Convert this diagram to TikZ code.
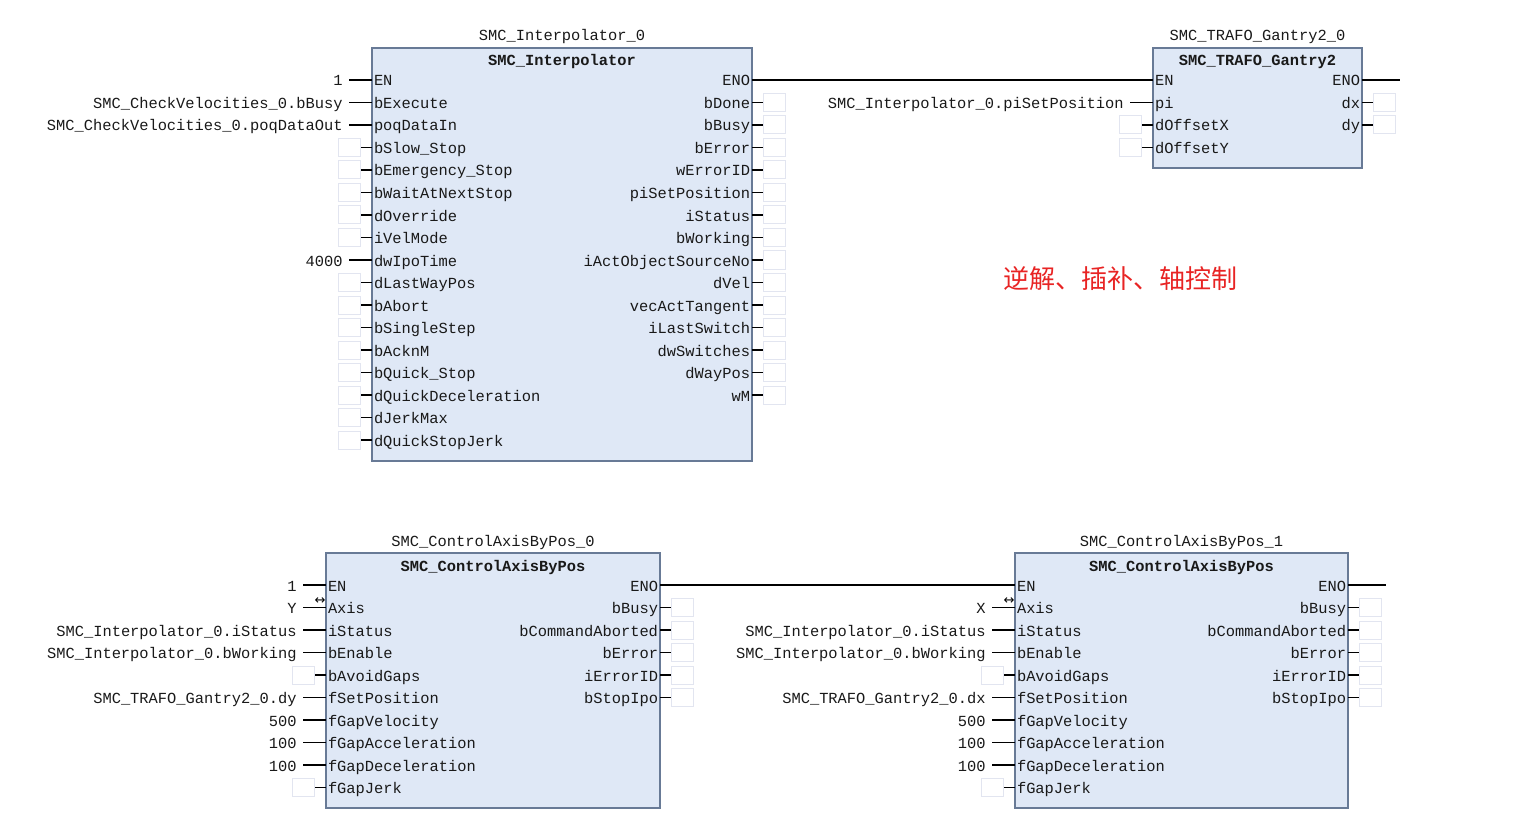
\documentclass[tikz,border=0pt]{standalone}
\usepackage{fontspec}
\setmainfont{Liberation Mono}
\newfontfamily\cjk{Noto Sans CJK SC}
\newfontfamily\symfont{DejaVu Sans}
\usetikzlibrary{calc}
\definecolor{fbfill}{RGB}{223,232,246}
\definecolor{fbline}{RGB}{104,122,150}
\definecolor{fbopen}{RGB}{226,229,240}
\definecolor{fbtext}{RGB}{25,25,25}
\definecolor{cnred}{RGB}{232,36,36}
\begin{document}
\begin{tikzpicture}[x=0.5pt, y=-0.5pt,
  font=\fontsize{7.7}{9}\selectfont,
  fbbox/.style={draw=fbline, fill=fbfill, line width=0.7pt},
  pinl/.style={inner xsep=0.8pt, inner ysep=0pt, text height=7pt, text depth=1pt, text=fbtext},
  pinv/.style={inner xsep=3pt, inner ysep=0pt, text height=7pt, text depth=1pt, text=fbtext},
  openbox/.style={draw=fbopen, fill=white, line width=0.5pt, minimum width=11pt, minimum height=9pt, inner sep=0pt},
  wire/.style={draw=black, line width=0.6pt}]
% FBD network exported from the CODESYS editor
\def\fbdBlock#1#2#3#4#5#6#7{%
  \draw[fbbox] (#2,#3) rectangle (#4,#5);
  \node[pinv] (#1-inst) at ($(#2,#3)!0.5!(#4,#3)+(0,-13)$) {#6};
  \node[pinv, font=\fontsize{7.7}{9}\selectfont\bfseries] (#1-type) at ($(#2,#3)!0.5!(#4,#3)+(0,12)$) {#7};}
% input pin fed by a value
\def\fbdIn#1#2#3#4#5{%
  \node[pinl, anchor=west] (#1) at (#2,#3) {#4};
  \node[pinv, anchor=east] (#1-v) at ([xshift=-11.5pt]#2,#3) {#5};
  \draw[wire] (#1-v.east) -- (#1.west);}
% input pin left open
\def\fbdOpen#1#2#3#4{%
  \node[pinl, anchor=west] (#1) at (#2,#3) {#4};
  \node[openbox, anchor=east] (#1-b) at ([xshift=-5.5pt]#2,#3) {};
  \draw[wire] (#1-b.east) -- (#1.west);}
% output pin left open
\def\fbdOut#1#2#3#4{%
  \node[pinl, anchor=east] (#1) at (#2,#3) {#4};
  \node[openbox, anchor=west] (#1-b) at ([xshift=5.5pt]#2,#3) {};
  \draw[wire] (#1.east) -- (#1-b.west);}

% Blocks
\fbdBlock{ip}{372}{48}{752}{461}{SMC\_Interpolator\_0}{SMC\_Interpolator}
\fbdBlock{tr}{1153}{48}{1362}{168}{SMC\_TRAFO\_Gantry2\_0}{SMC\_TRAFO\_Gantry2}
\fbdBlock{ca}{326}{553}{660}{808}{SMC\_ControlAxisByPos\_0}{SMC\_ControlAxisByPos}
\fbdBlock{cb}{1015}{553}{1348}{808}{SMC\_ControlAxisByPos\_1}{SMC\_ControlAxisByPos}

% SMC_Interpolator_0 inputs
\fbdIn{ip-EN}{372}{80}{EN}{1}
\fbdIn{ip-bExecute}{372}{102.5}{bExecute}{SMC\_CheckVelocities\_0.bBusy}
\fbdIn{ip-poqDataIn}{372}{125}{poqDataIn}{SMC\_CheckVelocities\_0.poqDataOut}
\fbdOpen{ip-bSlowStop}{372}{147.5}{bSlow\_Stop}
\fbdOpen{ip-bEmergencyStop}{372}{170}{bEmergency\_Stop}
\fbdOpen{ip-bWaitAtNextStop}{372}{192.5}{bWaitAtNextStop}
\fbdOpen{ip-dOverride}{372}{215}{dOverride}
\fbdOpen{ip-iVelMode}{372}{237.5}{iVelMode}
\fbdIn{ip-dwIpoTime}{372}{260}{dwIpoTime}{4000}
\fbdOpen{ip-dLastWayPos}{372}{282.5}{dLastWayPos}
\fbdOpen{ip-bAbort}{372}{305}{bAbort}
\fbdOpen{ip-bSingleStep}{372}{327.5}{bSingleStep}
\fbdOpen{ip-bAcknM}{372}{350}{bAcknM}
\fbdOpen{ip-bQuickStop}{372}{372.5}{bQuick\_Stop}
\fbdOpen{ip-dQuickDeceleration}{372}{395}{dQuickDeceleration}
\fbdOpen{ip-dJerkMax}{372}{417.5}{dJerkMax}
\fbdOpen{ip-dQuickStopJerk}{372}{440}{dQuickStopJerk}
% SMC_Interpolator_0 outputs
\node[pinl, anchor=east] (ip-ENO) at (752,80) {ENO};
\fbdOut{ip-bDone}{752}{102.5}{bDone}
\fbdOut{ip-bBusy}{752}{125}{bBusy}
\fbdOut{ip-bError}{752}{147.5}{bError}
\fbdOut{ip-wErrorID}{752}{170}{wErrorID}
\fbdOut{ip-piSetPosition}{752}{192.5}{piSetPosition}
\fbdOut{ip-iStatus}{752}{215}{iStatus}
\fbdOut{ip-bWorking}{752}{237.5}{bWorking}
\fbdOut{ip-iActObjectSourceNo}{752}{260}{iActObjectSourceNo}
\fbdOut{ip-dVel}{752}{282.5}{dVel}
\fbdOut{ip-vecActTangent}{752}{305}{vecActTangent}
\fbdOut{ip-iLastSwitch}{752}{327.5}{iLastSwitch}
\fbdOut{ip-dwSwitches}{752}{350}{dwSwitches}
\fbdOut{ip-dWayPos}{752}{372.5}{dWayPos}
\fbdOut{ip-wM}{752}{395}{wM}

% SMC_TRAFO_Gantry2_0
\node[pinl, anchor=west] (tr-EN) at (1153,80) {EN};
\fbdIn{tr-pi}{1153}{102.5}{pi}{SMC\_Interpolator\_0.piSetPosition}
\fbdOpen{tr-dOffsetX}{1153}{125}{dOffsetX}
\fbdOpen{tr-dOffsetY}{1153}{147.5}{dOffsetY}
\node[pinl, anchor=east] (tr-ENO) at (1362,80) {ENO};
\fbdOut{tr-dx}{1362}{102.5}{dx}
\fbdOut{tr-dy}{1362}{125}{dy}
\coordinate (tr-ENO-end) at (1400,80);

% SMC_ControlAxisByPos_0
\fbdIn{ca-EN}{326}{585}{EN}{1}
\fbdIn{ca-Axis}{326}{607.5}{Axis}{Y}
\node[font=\symfont\fontsize{6.5}{6.5}\selectfont, inner sep=0pt] (ca-Axis-io) at (320,601) {↔};
\fbdIn{ca-iStatus}{326}{630}{iStatus}{SMC\_Interpolator\_0.iStatus}
\fbdIn{ca-bEnable}{326}{652.5}{bEnable}{SMC\_Interpolator\_0.bWorking}
\fbdOpen{ca-bAvoidGaps}{326}{675}{bAvoidGaps}
\fbdIn{ca-fSetPosition}{326}{697.5}{fSetPosition}{SMC\_TRAFO\_Gantry2\_0.dy}
\fbdIn{ca-fGapVelocity}{326}{720}{fGapVelocity}{500}
\fbdIn{ca-fGapAcceleration}{326}{742.5}{fGapAcceleration}{100}
\fbdIn{ca-fGapDeceleration}{326}{765}{fGapDeceleration}{100}
\fbdOpen{ca-fGapJerk}{326}{787.5}{fGapJerk}
\node[pinl, anchor=east] (ca-ENO) at (660,585) {ENO};
\fbdOut{ca-bBusy}{660}{607.5}{bBusy}
\fbdOut{ca-bCommandAborted}{660}{630}{bCommandAborted}
\fbdOut{ca-bError}{660}{652.5}{bError}
\fbdOut{ca-iErrorID}{660}{675}{iErrorID}
\fbdOut{ca-bStopIpo}{660}{697.5}{bStopIpo}

% SMC_ControlAxisByPos_1
\node[pinl, anchor=west] (cb-EN) at (1015,585) {EN};
\fbdIn{cb-Axis}{1015}{607.5}{Axis}{X}
\node[font=\symfont\fontsize{6.5}{6.5}\selectfont, inner sep=0pt] (cb-Axis-io) at (1009,601) {↔};
\fbdIn{cb-iStatus}{1015}{630}{iStatus}{SMC\_Interpolator\_0.iStatus}
\fbdIn{cb-bEnable}{1015}{652.5}{bEnable}{SMC\_Interpolator\_0.bWorking}
\fbdOpen{cb-bAvoidGaps}{1015}{675}{bAvoidGaps}
\fbdIn{cb-fSetPosition}{1015}{697.5}{fSetPosition}{SMC\_TRAFO\_Gantry2\_0.dx}
\fbdIn{cb-fGapVelocity}{1015}{720}{fGapVelocity}{500}
\fbdIn{cb-fGapAcceleration}{1015}{742.5}{fGapAcceleration}{100}
\fbdIn{cb-fGapDeceleration}{1015}{765}{fGapDeceleration}{100}
\fbdOpen{cb-fGapJerk}{1015}{787.5}{fGapJerk}
\node[pinl, anchor=east] (cb-ENO) at (1348,585) {ENO};
\fbdOut{cb-bBusy}{1348}{607.5}{bBusy}
\fbdOut{cb-bCommandAborted}{1348}{630}{bCommandAborted}
\fbdOut{cb-bError}{1348}{652.5}{bError}
\fbdOut{cb-iErrorID}{1348}{675}{iErrorID}
\fbdOut{cb-bStopIpo}{1348}{697.5}{bStopIpo}
\coordinate (cb-ENO-end) at (1386,585);

% EN/ENO chain
\draw[wire] (ip-ENO.east) -- (tr-EN.west);
\draw[wire] (tr-ENO.east) -- (tr-ENO-end);
\draw[wire] (ca-ENO.east) -- (cb-EN.west);
\draw[wire] (cb-ENO.east) -- (cb-ENO-end);

% note
\node[text=cnred, font=\cjk\fontsize{13}{15}\selectfont, inner sep=0pt] (note) at (1120,279) {逆解、插补、轴控制};

\useasboundingbox (0,0) rectangle (1530,834);
\end{tikzpicture}
\end{document}
